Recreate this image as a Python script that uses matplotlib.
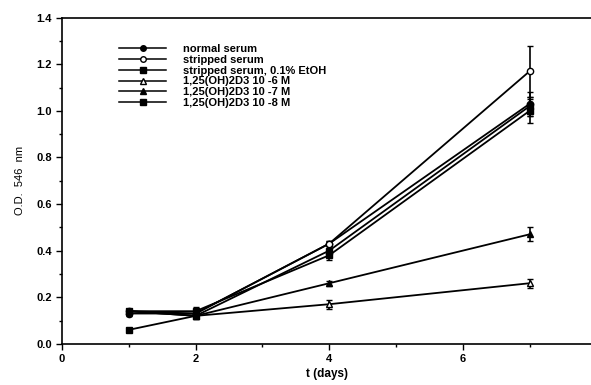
import matplotlib
matplotlib.use('Agg')
import matplotlib.pyplot as plt
from matplotlib.lines import Line2D
from matplotlib.ticker import MultipleLocator

plt.rcParams['font.family'] = 'Liberation Sans'
plt.rcParams['font.weight'] = 'bold'

days = [1, 2, 4, 7]

labels = ['normal serum', 'stripped serum', 'stripped serum, 0.1% EtOH',
          '1,25(OH)2D3 10 -6 M', '1,25(OH)2D3 10 -7 M', '1,25(OH)2D3 10 -8 M']
normal = [0.13, 0.13, 0.43, 1.03]
stripped = [0.14, 0.13, 0.43, 1.17]
etoh = [0.14, 0.14, 0.38, 1.00]
d6 = [0.14, 0.12, 0.17, 0.26]
d7 = [0.14, 0.12, 0.26, 0.47]
d8 = [0.06, 0.12, 0.40, 1.02]

err_normal = [0.01, 0.01, 0.01, 0.05]
err_stripped = [0.01, 0.01, 0.01, 0.11]
err_etoh = [0.01, 0.02, 0.02, 0.05]
err_d6 = [0.01, 0.01, 0.02, 0.02]
err_d7 = [0.01, 0.01, 0.01, 0.03]
err_d8 = [0.01, 0.01, 0.02, 0.04]

series = [normal, stripped, etoh, d6, d7, d8]
errs = [err_normal, err_stripped, err_etoh, err_d6, err_d7, err_d8]
markers = ['o', 'o', 's', '^', '^', 's']
faces = ['black', 'white', 'black', 'white', 'black', 'black']

fig = plt.figure(figsize=(5.91, 3.85), dpi=100)
ax = fig.add_axes([0.105, 0.107, 0.895, 0.847])

handles = []
for y, e, m, fc, lab in zip(series, errs, markers, faces, labels):
    ax.errorbar(days, y, yerr=e, marker=m, markersize=4.5, mfc=fc, mec='black',
                color='black', lw=1.3, capsize=2.5, elinewidth=1.2)
    handles.append(Line2D([], [], marker=m, markersize=4, mfc=fc, mec='black',
                          color='black', lw=1.1, label=lab))

ax.set_xlim(0, 7.92)
ax.set_ylim(0, 1.4)
ax.xaxis.set_major_locator(MultipleLocator(2))
ax.xaxis.set_minor_locator(MultipleLocator(1))
ax.yaxis.set_major_locator(MultipleLocator(0.2))
ax.yaxis.set_minor_locator(MultipleLocator(0.1))
ax.yaxis.set_major_formatter(plt.FormatStrFormatter('%.1f'))
ax.tick_params(which='both', direction='out', labelsize=8, width=1)
ax.tick_params(which='major', length=4)
ax.tick_params(which='minor', length=2.5)
ax.spines['right'].set_visible(False)
for s in ['left', 'bottom', 'top']:
    ax.spines[s].set_linewidth(1.2)

ax.set_xlabel('t (days)', fontsize=8.5, fontweight='bold', labelpad=3)
ax.set_ylabel('O.D.  546  nm', fontsize=8, fontweight='normal', labelpad=8)

ax.legend(handles=handles, loc='upper left', bbox_to_anchor=(0.108, 0.92),
          frameon=False, fontsize=8, handlelength=4.2, handletextpad=1.5,
          labelspacing=0.08, borderaxespad=0, borderpad=0)

fig.savefig('out.png', dpi=100)
